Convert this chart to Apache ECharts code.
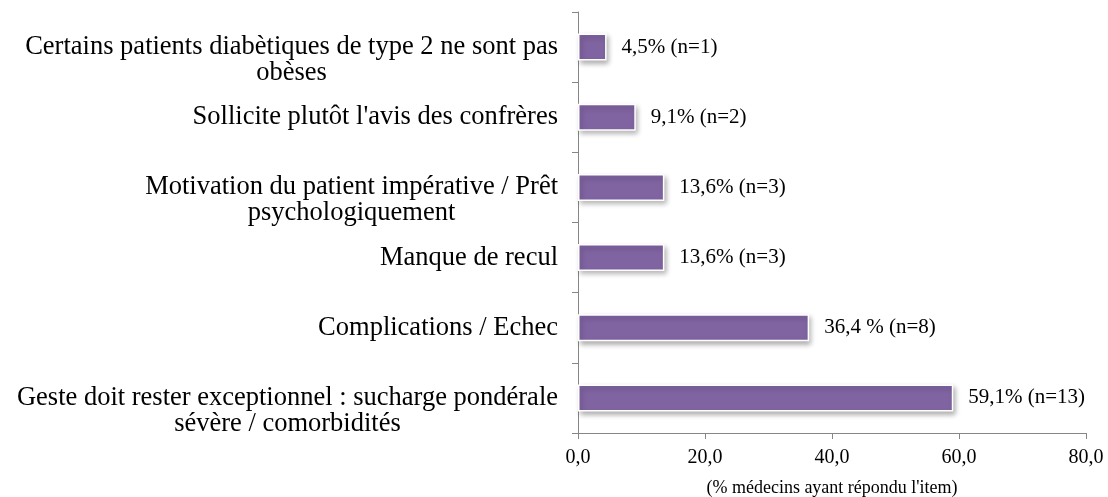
<!DOCTYPE html>
<html>
<head>
<meta charset="utf-8">
<script src="https://cdn.jsdelivr.net/npm/echarts@6/dist/echarts.min.js"></script>
<style>
  html, body { margin: 0; padding: 0; background: #fff; }
  #chart { width: 1108px; height: 497px; }
</style>
</head>
<body>
<div id="chart"></div>
<script>
// categories, top to bottom
var categories = [
	"Certains patients diabètiques de type 2 ne sont pas\nobèses",
	"Sollicite plutôt l'avis des confrères",
	"Motivation du patient impérative / Prêt\npsychologiquement",
	"Manque de recul",
	"Complications / Echec",
	"Geste doit rester exceptionnel : sucharge pondérale\nsévère / comorbidités"
];
var percents = [4.5, 9.1, 13.6, 13.6, 36.4, 59.1];
var valueTexts = ["4,5% (n=1)", "9,1% (n=2)", "13,6% (n=3)", "13,6% (n=3)", "36,4 % (n=8)", "59,1% (n=13)"];
var xTicks = [0, 20, 40, 60, 80];
var xName = "(% médecins ayant répondu l'item)";

var myChart = echarts.init(document.getElementById("chart"));
var serif = "'Liberation Serif', 'Times New Roman', serif";

var option = {
	animation: false,
	backgroundColor: '#ffffff',
	grid: { left: 578, right: 22, top: 12, bottom: 64, containLabel: false, outerBoundsMode: 'none' },
	xAxis: {
		type: 'value',
		min: xTicks[0],
		max: xTicks[xTicks.length - 1],
		interval: xTicks[1] - xTicks[0],
		name: xName,
		nameLocation: 'middle',
		nameGap: 46,
		nameTextStyle: { fontFamily: serif, fontSize: 18, color: '#000' },
		axisLine: { show: true, lineStyle: { color: '#868686', width: 1 } },
		axisTick: { show: true, length: 6, lineStyle: { color: '#868686' } },
		splitLine: { show: false },
		axisLabel: {
			fontFamily: serif, fontSize: 20, color: '#000', margin: 15,
			formatter: function (v) { return v.toFixed(1).replace('.', ','); }
		}
	},
	yAxis: {
		type: 'category',
		inverse: true,
		data: categories,
		axisLine: { show: true, lineStyle: { color: '#868686', width: 1 } },
		axisTick: { show: true, length: 6, lineStyle: { color: '#868686' } },
		axisLabel: {
			interval: 0,
			margin: 20,
			color: '#000',
			fontFamily: serif,
			fontSize: 26.5,
			lineHeight: 26,
			// first line sits on the band centre, extra lines hang below
			formatter: function (v) {
				var t = v.indexOf('\n') >= 0 ? '\n' + v : v;
				return '{c|' + t + '}';
			},
			rich: { c: { align: 'center', fontFamily: serif, fontSize: 26.5, lineHeight: 26, color: '#000' } }
		}
	},
	series: [{
		type: 'bar',
		data: percents,
		barWidth: 27,
		itemStyle: {
			color: '#8064A2',
			borderColor: '#ffffff',
			borderWidth: 1.5,
			shadowColor: 'rgba(0,0,0,0.3)',
			shadowBlur: 5,
			shadowOffsetX: 2,
			shadowOffsetY: 3
		},
		label: {
			show: true,
			position: 'right',
			distance: 15,
			fontFamily: serif,
			fontSize: 21,
			color: '#000',
			formatter: function (p) { return valueTexts[p.dataIndex]; }
		}
	}]
};

myChart.setOption(option);
</script>
</body>
</html>
